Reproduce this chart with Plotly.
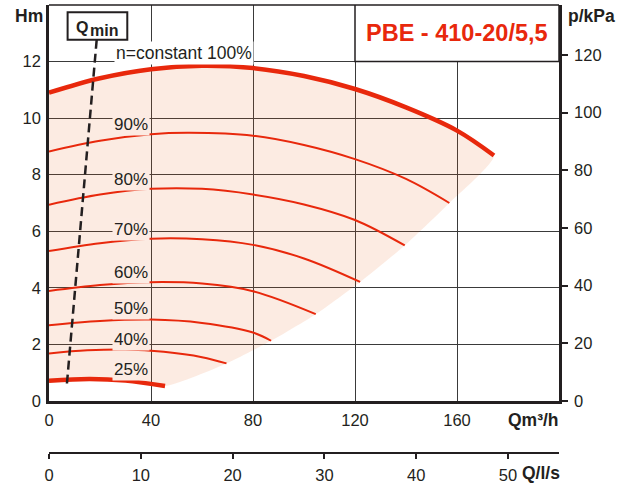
import plotly.graph_objects as go

# ---------------- data ----------------
# Pump curves: flow Q [m3/h] vs head H [m] at speed percentages
q100 = [0, 20, 40, 60, 80, 100, 120, 140, 160, 174.5]
h100 = [10.90, 11.41, 11.73, 11.85, 11.77, 11.49, 11.03, 10.38, 9.56, 8.68]

q90 = [0, 20, 40, 55, 80, 100, 120, 140, 157]
h90 = [8.82, 9.20, 9.43, 9.48, 9.38, 9.05, 8.55, 7.85, 7.00]

q80 = [0, 20, 40, 60, 80, 100, 120, 139.5]
h80 = [6.94, 7.30, 7.50, 7.50, 7.30, 6.95, 6.40, 5.50]

q70 = [0, 20, 40, 60, 80, 100, 122]
h70 = [5.30, 5.58, 5.74, 5.72, 5.52, 5.04, 4.21]

q60 = [0, 20, 40, 60, 80, 104.6]
h60 = [3.89, 4.10, 4.20, 4.15, 3.88, 3.07]

q50 = [0, 20, 40, 60, 80, 87.1]
h50 = [2.68, 2.83, 2.88, 2.76, 2.42, 2.13]

q40 = [0, 15, 30, 45, 60, 69.6]
h40 = [1.68, 1.79, 1.82, 1.74, 1.55, 1.33]

q25 = [0, 16, 30, 45.5]
h25 = [0.72, 0.78, 0.72, 0.53]

# right edge of the operating area (ends of the curves)
q_edge = [174.5, 157, 139.5, 122, 104.6, 87.1, 69.6, 45.5]
h_edge = [8.68, 7.00, 5.50, 4.21, 3.07, 2.13, 1.33, 0.53]

# Qmin dashed line
qmin_q = [18.7, 6.9]
qmin_h = [12.77, 0.48]

# curve labels
pct_labels = ["90%", "80%", "70%", "60%", "50%", "40%", "25%"]
pct_label_h = [9.79, 7.84, 6.08, 4.54, 3.28, 2.18, 1.12]
pct_label_q = 32.2

# axes ticks
q_ticks = [0, 40, 80, 120, 160]
h_ticks = [0, 2, 4, 6, 8, 10, 12]
kpa_ticks = [0, 20, 40, 60, 80, 100, 120]
ls_ticks = [0, 10, 20, 30, 40, 50]
Q_MAX = 200
H_MAX = 14
KPA_PER_M = 9.81
M3H_PER_LS = 3.6

title_text = "PBE - 410-20/5,5"

# ---------------- styling ----------------
RED = "#E8280C"
DARK = "#231F20"
GRID = "#3a3a3a"
FONT = "Liberation Sans, Arial, Helvetica, sans-serif"
SHADE = "rgba(232,101,32,0.13)"
SHADE_OPAQUE = "#FCEBE3"

fig = go.Figure()

# shaded operating area
shade_q = q100 + q_edge[1:] + q25[::-1][1:]
shade_h = h100 + h_edge[1:] + h25[::-1][1:]
fig.add_trace(go.Scatter(x=shade_q, y=shade_h, fill="toself", fillcolor=SHADE,
                         mode="lines", line=dict(width=0, shape="spline", smoothing=0.6),
                         hoverinfo="skip", showlegend=False))

curves = [(q100, h100, 4.5), (q90, h90, 2), (q80, h80, 2), (q70, h70, 2),
          (q60, h60, 2), (q50, h50, 2), (q40, h40, 2), (q25, h25, 4.5)]
for q, h, w in curves:
    fig.add_trace(go.Scatter(x=q, y=h, mode="lines",
                             line=dict(color=RED, width=w, shape="spline", smoothing=1.0),
                             hoverinfo="skip", showlegend=False))

# Qmin dashed line
fig.add_trace(go.Scatter(x=qmin_q, y=qmin_h, mode="lines",
                         line=dict(color=DARK, width=2.5, dash="9px,5px"),
                         hoverinfo="skip", showlegend=False))

# dummy traces so secondary axes exist
fig.add_trace(go.Scatter(x=[0], y=[0], xaxis="x2", yaxis="y", mode="markers",
                         marker=dict(opacity=0, size=1), hoverinfo="skip", showlegend=False))
fig.add_trace(go.Scatter(x=[0], y=[0], xaxis="x", yaxis="y2", mode="markers",
                         marker=dict(opacity=0, size=1), hoverinfo="skip", showlegend=False))

W, H = 634, 491
ML, MR, MT, MB = 49, 75, 5, 38
plot_h = H - MT - MB
plot_w = W - ML - MR
y_dom0 = (453 - 401) / plot_h


def px_x(p):
    return (p - ML) / plot_w


def px_y(p):
    return (H - MB - p) / plot_h


tickfont = dict(family=FONT, size=16.5, color=DARK)
boldfont = dict(family=FONT, size=17.5, color=DARK)

fig.update_layout(
    template="none",
    width=W, height=H,
    margin=dict(l=ML, r=MR, t=MT, b=MB, pad=0, autoexpand=False),
    paper_bgcolor="white", plot_bgcolor="white",
    showlegend=False,
    xaxis=dict(range=[0, Q_MAX], tickvals=q_ticks, ticktext=[str(v) for v in q_ticks],
               showgrid=True, gridcolor=GRID, gridwidth=1,
               showline=True, linecolor=DARK, linewidth=2.5,
               ticks="", tickfont=tickfont, ticklabelstandoff=2, automargin=False,
               zeroline=False, anchor="y", fixedrange=True),
    xaxis2=dict(range=[0, Q_MAX / M3H_PER_LS], tickvals=ls_ticks,
                overlaying="x", anchor="free", position=0,
                showgrid=False, showline=True, linecolor=DARK, linewidth=2,
                ticks="outside", ticklen=5, tickwidth=2, tickcolor=DARK, automargin=False,
                tickfont=tickfont, ticklabelstandoff=2, side="bottom", zeroline=False),
    yaxis=dict(range=[0, H_MAX], tickvals=h_ticks, domain=[y_dom0, 1],
               showgrid=True, gridcolor=GRID, gridwidth=1,
               showline=True, linecolor=DARK, linewidth=2.5, automargin=False,
               ticks="", tickfont=tickfont, ticklabelstandoff=2,
               zeroline=False, anchor="x"),
    yaxis2=dict(range=[0, H_MAX * KPA_PER_M], tickvals=kpa_ticks,
                overlaying="y", side="right", anchor="x", automargin=False,
                showgrid=False, showline=True, linecolor=DARK, linewidth=2.5,
                ticks="outside", ticklen=6, tickwidth=2, tickcolor=DARK,
                tickfont=tickfont, ticklabelstandoff=3, zeroline=False),
)

shapes = []
# top border
shapes.append(dict(type="line", xref="paper", yref="paper", x0=0, x1=1, y0=1, y1=1,
                   line=dict(color=DARK, width=1.5), layer="above"))
# title box
shapes.append(dict(type="rect", xref="x", yref="y", x0=120, x1=Q_MAX, y0=12, y1=H_MAX,
                   fillcolor="white", line=dict(color=DARK, width=1.5), layer="above"))
# Qmin box
shapes.append(dict(type="rect", xref="x", yref="y", x0=7.3, x1=30.7, y0=12.77, y1=13.74,
                   fillcolor="white", line=dict(color=DARK, width=2), layer="above"))
fig.update_layout(shapes=shapes)

ann = []
ann.append(dict(x=160, y=13.0, xref="x", yref="y", text="<b>" + title_text + "</b>",
                xanchor="center", yanchor="middle",
                showarrow=False, font=dict(family=FONT, size=23.5, color=RED)))
ann.append(dict(x=12.9, y=13.2, xref="x", yref="y", text="<b>Q</b>",
                xanchor="center", yanchor="middle",
                showarrow=False, font=dict(family=FONT, size=16, color=DARK)))
ann.append(dict(x=21.4, y=13.1, xref="x", yref="y", text="<b>min</b>",
                xanchor="center", yanchor="middle",
                showarrow=False, font=dict(family=FONT, size=16, color=DARK)))
ann.append(dict(x=52.8, y=12.3, xref="x", yref="y", text="n=constant 100%",
                xanchor="center", yanchor="middle",
                showarrow=False, bgcolor="white", borderpad=1,
                font=dict(family=FONT, size=17.5, color=DARK)))
for t, hy in zip(pct_labels, pct_label_h):
    ann.append(dict(x=pct_label_q, y=hy, xref="x", yref="y", text=t,
                    xanchor="center", yanchor="middle",
                    showarrow=False, bgcolor=SHADE_OPAQUE, borderpad=1,
                    font=dict(family=FONT, size=17, color=DARK)))
ann.append(dict(x=px_x(29), y=px_y(16), xref="paper", yref="paper", text="<b>Hm</b>",
                xanchor="center", yanchor="middle", showarrow=False, font=boldfont))
ann.append(dict(x=px_x(591), y=px_y(16), xref="paper", yref="paper", text="<b>p/kPa</b>",
                xanchor="center", yanchor="middle", showarrow=False, font=boldfont))
ann.append(dict(x=px_x(561), y=px_y(420), xref="paper", yref="paper", text="<b>Qm³/h</b>",
                xanchor="right", yanchor="middle", showarrow=False, font=boldfont))
ann.append(dict(x=px_x(562), y=px_y(473), xref="paper", yref="paper", text="<b>Q/l/s</b>",
                xanchor="right", yanchor="middle", showarrow=False, font=boldfont))
fig.update_layout(annotations=ann)

fig.write_html("out.html", config={"displayModeBar": False},
               post_script="document.body.style.margin='0';document.body.style.overflow='hidden';")
